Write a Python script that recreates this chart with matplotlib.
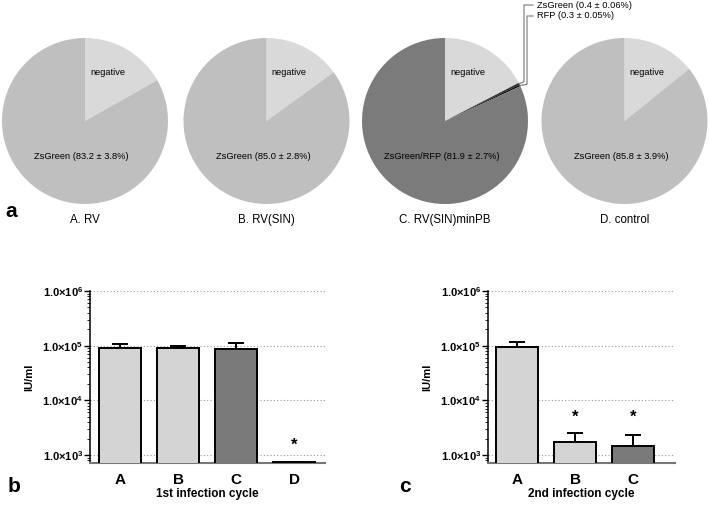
import matplotlib
matplotlib.use("Agg")
import matplotlib.pyplot as plt
import numpy as np
from matplotlib.ticker import LogLocator, FixedLocator, NullFormatter
from matplotlib.lines import Line2D
import matplotlib.transforms as mtransforms

plt.rcParams['font.family'] = ['Liberation Sans', 'DejaVu Sans']
plt.rcParams['mathtext.fontset'] = 'custom'
plt.rcParams['mathtext.rm'] = 'Liberation Sans'
plt.rcParams['mathtext.bf'] = 'Liberation Sans:bold'

# ---------------- data ----------------
pie_titles = ["A. RV", "B. RV(SIN)", "C. RV(SIN)minPB", "D. control"]
pie_main_labels = ["ZsGreen (83.2 ± 3.8%)", "ZsGreen (85.0 ± 2.8%)",
                   "ZsGreen/RFP (81.9 ± 2.7%)", "ZsGreen (85.8 ± 3.9%)"]
pie_main_values = [83.2, 85.0, 81.9, 85.8]
pie_c_small_labels = ["ZsGreen (0.4 ± 0.06%)", "RFP (0.3 ± 0.05%)"]
pie_c_small_values = [0.4, 0.3]

cat_b = ["A", "B", "C", "D"]
val_b = [9.1e4, 9.2e4, 8.7e4, 730]
err_b = [1.6e4, 0.8e4, 2.5e4, 0]
star_b = [False, False, False, True]

cat_c = ["A", "B", "C"]
val_c = [9.6e4, 1.71e3, 1.48e3]
err_c = [2.1e4, 0.78e3, 0.84e3]
star_c = [False, True, True]

yticks = [1e3, 1e4, 1e5, 1e6]
ytick_labels = [r"1.0×10$^{\mathbf{3}}$", r"1.0×10$^{\mathbf{4}}$",
                r"1.0×10$^{\mathbf{5}}$", r"1.0×10$^{\mathbf{6}}$"]

# ---------------- figure ----------------
W, H = 709, 505
fig = plt.figure(figsize=(W / 100, H / 100), dpi=100)

NEG = '#d9d9d9'
MAIN = '#bfbfbf'
DARK = '#7b7b7b'

def px_axes(cx, cy, r):
    return fig.add_axes([(cx - r) / W, 1 - (cy + r) / H, 2 * r / W, 2 * r / H])

centers = [85, 266.5, 445, 624.5]
R = 83
for i, cx in enumerate(centers):
    ax = px_axes(cx, 121, R)
    main = pie_main_values[i]
    if i == 2:
        small = pie_c_small_values
        neg = 100 - main - sum(small)
        vals = [neg] + small + [main]
        cols = [NEG, '#333333', '#000000', DARK]
    else:
        neg = 100 - main
        vals = [neg, main]
        cols = [NEG, MAIN]
    wedges, _ = ax.pie(vals, colors=cols, startangle=90, counterclock=False,
                       radius=1, wedgeprops=dict(linewidth=0))
    ax.set_xlim(-1, 1)
    ax.set_ylim(-1, 1)
    ax.set_aspect('equal')
    ax.axis('off')
    ax.text(0.27, 0.59, "negative", ha='center', va='center', fontsize=6.7)
    ax.text(-0.04, -0.43, pie_main_labels[i], ha='center', va='center', fontsize=6.7)
    fig.text(cx / W, 1 - 220 / H, pie_titles[i], ha='center', va='center', fontsize=8.3)
    if i == 2:
        cum = neg
        label_y = [5, 16]
        vert_x = [524, 527]
        for k, (lab, v) in enumerate(zip(pie_c_small_labels, small)):
            mid = 90 - (cum + v / 2) * 3.6
            cum += v
            # wedge edge point in figure pixels
            ex = cx + R * np.cos(np.radians(mid))
            ey = 121 - R * np.sin(np.radians(mid))
            xs = [ex, vert_x[k], vert_x[k], 533]
            ys = [ey, ey - 2 + k, label_y[k], label_y[k]]
            fig.add_artist(Line2D(np.array(xs) / W, 1 - np.array(ys) / H,
                                  transform=fig.transFigure, color='#777777', lw=0.8))
            fig.text(537 / W, 1 - label_y[k] / H, lab, ha='left', va='center', fontsize=6.7)

fig.text(5 / W, 1 - 212 / H, "a", fontsize=15, fontweight='bold', ha='left', va='center')
fig.text(8 / W, 1 - 486 / H, "b", fontsize=15, fontweight='bold', ha='left', va='center')
fig.text(399 / W, 1 - 486 / H, "c", fontsize=15, fontweight='bold', ha='left', va='center')

LIGHT_BAR = '#d4d4d4'
DARK_BAR = '#7a7a7a'

def bar_panel(rect, cats, vals, errs, stars, colors, xlim, xlabel, star_y):
    ax = fig.add_axes(rect)
    x = np.arange(len(cats))
    ax.set_yscale('log')
    ax.bar(x, vals, width=0.72, color=colors, edgecolor='black', linewidth=1.4,
           zorder=3, bottom=0)
    ax.errorbar(x, vals, yerr=[np.zeros(len(errs)), errs], fmt='none',
                ecolor='black', elinewidth=1.4, capsize=6, capthick=1.4, zorder=2)
    ax.set_ylim(714, 1e6)
    ax.set_xlim(*xlim)
    ax.yaxis.set_major_locator(FixedLocator(yticks))
    ax.set_yticklabels(ytick_labels, fontsize=8, fontweight='bold')
    ax.yaxis.set_minor_locator(LogLocator(base=10, subs=np.arange(2, 10)))
    ax.yaxis.set_minor_formatter(NullFormatter())
    ax.tick_params(axis='y', which='major', length=4, width=1, pad=1)
    ax.tick_params(axis='y', which='minor', length=2, width=0.6)
    ax.set_xticks(x)
    ax.set_xticklabels(cats, fontsize=11, fontweight='bold')
    ax.tick_params(axis='x', length=0, pad=7)
    ax.set_xlabel(xlabel, fontsize=8.5, fontweight='bold', labelpad=1)
    ax.set_ylabel("IU/ml", fontsize=8, fontweight='bold', labelpad=6)
    for s in ['top', 'right']:
        ax.spines[s].set_visible(False)
    ax.spines['left'].set_linewidth(1.1)
    ax.spines['bottom'].set_color('#777777')
    ax.spines['bottom'].set_linewidth(1.5)
    ax.grid(axis='y', which='major', linestyle=(0, (1, 2)), color='#999999', linewidth=0.8, zorder=0)
    trans = mtransforms.blended_transform_factory(ax.transData, ax.transAxes)
    for xi, st in zip(x, stars):
        if st:
            ax.text(xi, star_y, "*", transform=trans, ha='center', va='center',
                    fontsize=12, fontweight='bold')
    return ax

bar_panel([90 / W, 1 - 463 / H, 235 / W, 172 / H], cat_b, val_b, err_b, star_b,
          [LIGHT_BAR, LIGHT_BAR, DARK_BAR, DARK_BAR], (-0.52, 3.53),
          "1st infection cycle", 0.105)
bar_panel([488 / W, 1 - 463 / H, 187 / W, 172 / H], cat_c, val_c, err_c, star_c,
          [LIGHT_BAR, LIGHT_BAR, DARK_BAR], (-0.5, 2.72),
          "2nd infection cycle", 0.265)

fig.savefig("out.png", dpi=100)
